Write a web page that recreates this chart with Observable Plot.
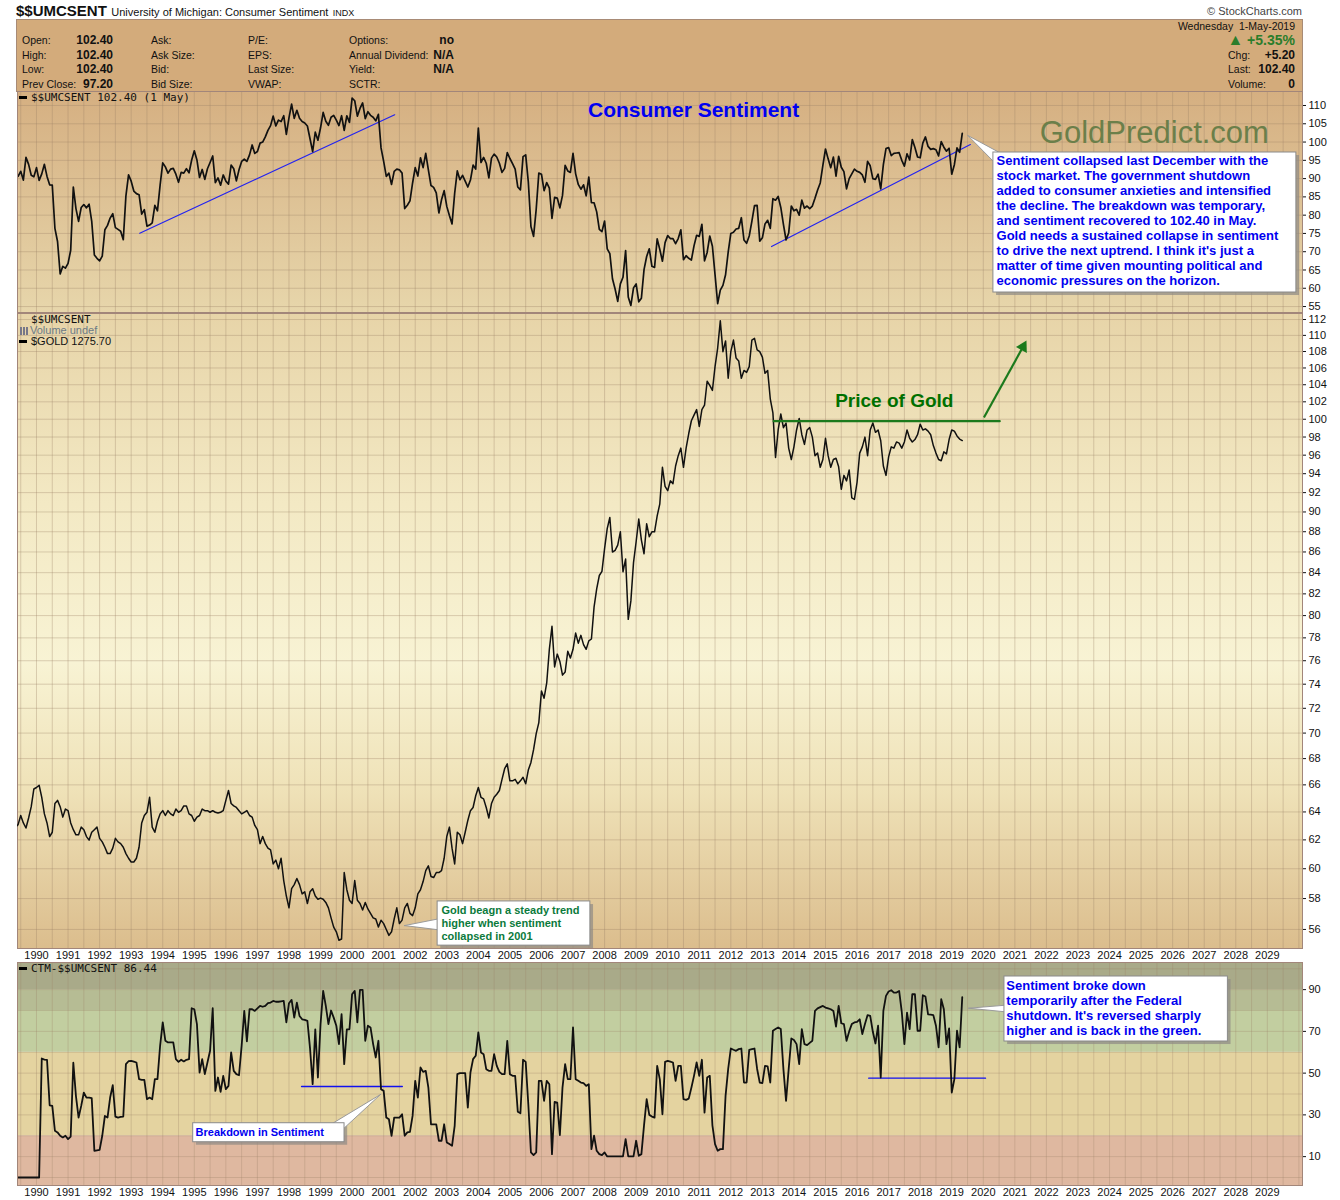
<!DOCTYPE html>
<html>
<head>
<meta charset="utf-8">
<script src="https://cdn.jsdelivr.net/npm/d3@7"></script>
<script src="https://cdn.jsdelivr.net/npm/@observablehq/plot@0.6"></script>
<style>
  html,body{margin:0;padding:0;background:#fff;}
  #wrap{position:relative;width:1340px;height:1200px;overflow:hidden;font-family:'Liberation Sans',Arial,Helvetica,sans-serif;color:#111;}
  .a{position:absolute;white-space:pre;line-height:14px;}
  .l{font-size:10.5px;}
  .v{font-size:12px;font-weight:bold;}
  .mono{font-family:'DejaVu Sans Mono','Liberation Mono',monospace;font-size:11px;}
  .dash{display:inline-block;width:8px;height:3px;background:#000;vertical-align:middle;margin-right:4px;position:relative;top:-1px;}
</style>
</head>
<body>
<div id="wrap"></div>
<script>
// ---------------- DATA (monthly, starting May 1989) ----------------
const startYear = 1989, startMonth = 4; // May (0-based)

// University of Michigan Consumer Sentiment
const sentiment = [
  90.7,90.6,92.0,89.6,95.8,93.9,90.9,90.5,
  93.0,89.5,91.3,93.9,90.6,88.3,88.2,76.4,72.8,63.9,66.0,65.5,
  66.8,70.4,87.7,81.8,78.3,82.1,82.9,82.0,83.0,78.3,69.1,68.2,
  67.5,68.8,76.0,77.2,79.2,80.4,76.6,76.1,75.6,73.3,85.3,91.0,
  89.3,86.6,85.9,85.6,80.3,81.5,77.0,77.3,77.9,82.7,81.2,88.2,
  94.3,93.2,91.5,92.6,92.8,91.2,89.0,91.7,91.5,92.7,91.6,95.1,
  97.6,95.1,90.3,92.5,89.8,92.7,94.4,96.2,88.9,90.2,88.2,91.0,
  89.3,88.5,93.7,92.7,89.4,92.4,94.7,95.3,94.7,96.5,99.2,96.9,
  97.4,99.7,100.0,101.4,103.2,104.5,107.1,104.4,106.0,105.6,107.2,102.1,
  106.6,110.4,106.5,108.7,106.5,105.6,105.2,104.4,100.9,97.4,102.7,100.5,
  103.9,108.1,105.7,104.6,106.8,107.3,106.0,104.5,107.2,103.2,107.2,105.4,
  112.0,111.3,107.1,109.2,110.7,106.4,108.3,107.3,106.8,105.8,107.6,98.4,
  94.7,90.6,91.5,88.4,92.0,92.6,92.4,91.5,81.8,82.7,83.9,88.8,
  93.0,90.7,95.7,93.0,96.9,92.4,88.1,87.6,86.1,80.6,84.2,86.7,
  82.4,79.9,77.6,86.0,92.1,89.7,90.9,89.3,87.7,89.6,93.7,92.6,
  103.8,94.4,95.8,94.2,90.2,95.6,96.7,95.9,94.2,91.7,92.8,97.1,
  95.5,94.1,92.6,87.7,86.9,96.0,96.5,89.1,76.9,74.2,81.6,91.5,
  91.2,86.7,88.9,87.4,79.1,84.9,84.7,82.0,85.4,93.6,92.1,91.7,
  96.9,91.3,88.4,87.1,88.3,85.3,90.4,83.4,83.4,80.9,76.1,75.5,
  78.4,70.8,69.5,62.6,59.8,56.4,61.2,63.0,70.3,57.6,55.3,60.1,
  61.2,56.3,57.3,65.1,68.7,70.8,66.0,65.7,73.5,70.6,67.4,72.5,
  74.4,73.6,73.6,72.2,73.6,76.0,67.8,68.9,68.2,67.7,71.6,74.5,
  74.2,77.5,67.5,69.8,74.3,71.5,63.7,55.8,59.5,60.8,63.7,69.9,
  75.0,75.3,76.2,76.4,79.3,73.2,72.3,74.3,78.3,82.6,82.7,72.9,
  73.8,77.6,78.6,76.4,84.5,84.1,85.1,82.1,77.5,73.2,75.1,82.5,
  81.2,81.6,80.0,84.1,81.9,82.5,81.8,82.5,84.6,86.9,88.8,93.6,
  98.1,95.4,93.0,95.9,90.7,96.1,93.1,91.9,87.2,90.0,91.3,92.6,
  92.0,91.7,91.0,89.0,94.7,93.5,90.0,89.8,91.2,87.2,93.8,98.2,
  98.5,96.3,96.9,97.0,97.1,95.0,93.4,96.8,95.1,100.7,98.5,95.9,
  95.7,99.7,101.4,98.8,98.0,98.2,97.9,96.2,100.1,98.6,97.5,98.3,
  91.2,93.8,98.4,97.2,102.4
];

// $GOLD (USD), overlaid on its own log scale
const gold = [
  366,369,380,371,365,377,391,414,
  416,419,403,382,371,355,360,395,399,391,378,388,
  386,371,363,357,357,366,363,355,351,360,363,366,
  353,349,343,336,336,342,353,349,347,343,336,331,
  327,327,331,343,371,380,384,403,366,360,373,382,
  386,380,386,382,380,388,384,386,392,392,382,380,
  373,378,380,388,386,386,384,386,384,383,384,386,
  399,412,395,392,390,386,382,384,386,380,378,368,
  363,347,355,347,342,340,325,329,320,331,308,293,
  282,300,304,310,304,295,297,286,297,300,293,290,
  291,290,287,282,273,265,261,254,255,316,299,289,
  286,308,289,286,280,287,281,277,273,272,265,271,
  268,263,258,261,272,282,268,271,282,286,277,275,
  282,295,299,307,318,323,312,311,316,316,318,331,
  355,366,342,325,360,357,347,360,374,386,390,405,
  416,403,401,390,377,395,403,407,412,427,442,449,
  425,425,427,421,425,430,421,440,451,470,495,513,
  568,555,583,650,700,614,640,625,598,604,646,632,
  650,685,663,680,660,650,668,672,745,790,825,836,
  900,960,995,890,895,910,950,835,870,716,760,860,
  920,990,925,885,975,935,950,950,1000,1040,1170,1100,
  1085,1120,1110,1175,1215,1245,1170,1245,1305,1360,1385,1410,
  1335,1410,1430,1545,1525,1500,1620,1720,1878,1700,1760,1560,
  1700,1765,1665,1650,1560,1600,1590,1620,1765,1775,1710,1700,
  1670,1585,1600,1460,1395,1208,1320,1390,1330,1350,1245,1200,
  1250,1320,1370,1300,1260,1320,1330,1290,1215,1225,1170,1200,
  1285,1215,1170,1200,1205,1172,1090,1140,1120,1160,1060,1055,
  1115,1225,1250,1290,1215,1320,1350,1310,1320,1275,1175,1140,
  1210,1250,1245,1270,1265,1245,1270,1320,1285,1270,1280,1300,
  1345,1320,1325,1315,1300,1255,1225,1200,1195,1230,1222,1280,
  1320,1315,1295,1282,1275.7
];

// CTM-$$UMCSENT (0-100)
const ctm = [
  0,0,0,0,0,0,0,0,
  0,0,57,56.5,56.4,34.6,34.3,22.4,21.6,20,19.2,20,
  18.4,19.6,55,39,28.7,34.3,40.7,38.3,38.3,38,12.8,13,
  13.2,20,29.5,28.7,38.3,44.2,29.2,28.7,29,29.2,54.3,55.7,
  55.9,55.5,55.1,47.1,46.8,46.8,37.5,38.3,37.5,47.1,47.1,63.1,
  74.3,65.5,64.7,64.7,64.7,56.7,55.4,56.4,55.6,56.4,56.7,81.1,
  80.6,73.5,50.3,56.7,49.5,55.1,60.7,81.1,41.5,47.9,41,48.7,
  42.3,43.9,59.9,51.1,49.5,49,63.1,79.8,65.2,80.6,80.6,79.8,
  81,82.2,81.8,82.2,83.5,83.8,84.6,84.2,84.2,84.4,84.6,74.3,
  83.5,85.1,76.6,83.8,77.4,75.8,75.5,75,62,44.7,71,47.9,
  73.5,89.4,82.2,73.5,80,76.6,72.7,63.9,78.2,54.3,71,71,
  87.8,89.4,74.3,89.9,89.9,65.5,72.7,71.9,63.9,57.5,65.5,42.3,
  41.5,28.7,27.9,20,28.7,28.7,28.7,30.3,20,21.6,21.9,29.5,
  46.3,38.3,52.7,50.6,51.1,43.1,25.5,25.5,25.5,17.6,17.6,25.5,
  16.8,16,15.2,24.7,49.5,50,50,50,33.5,50.3,56.7,58.3,
  69.5,59.9,59.1,51.9,51.1,51.1,59.1,53.5,50.6,49.5,49.5,65.5,
  49.5,48.7,48.7,31.5,30.8,56.4,55.4,35.1,12,10.7,12,46.3,
  46.3,36.7,46.3,44.7,11.2,36.2,35.9,20.3,43.1,54.3,47.1,47.1,
  71.9,47.1,46.3,45.5,45.2,43.9,44.7,13.6,20,12.8,11.2,10.7,
  12,10.1,10.1,10.1,10.1,10.1,10.1,10.1,18.4,10.1,10.1,10.1,
  17.6,10.4,11.2,25,37.5,30,29.2,28.7,53.5,47,30.3,55.4,
  55.9,55.5,55.1,46.3,53.5,53.5,37.5,37.2,37.8,43,48.7,55.1,
  48.7,56.4,31.1,47.9,48.7,25,16,12.8,13.6,13.6,39.1,52,
  61.8,61.2,60.7,61.5,61.8,45.5,45.5,61.2,61.5,61.8,52,45.5,
  45.2,53.5,53.2,45.5,70.3,71.1,71.9,71.1,51.9,36.7,51.9,66.6,
  65.9,63.9,54.3,71.1,63.9,63.4,64.5,65.5,79.8,81,81.6,82.2,
  81.4,81,80.6,79.8,72.3,82.2,73.9,73.5,65.5,70,73.5,74.3,
  74.6,75.8,68.7,73.5,77.8,77.4,69.8,64.2,72.7,47.9,79.8,87,
  89.1,89.7,88.6,88.6,89.4,79.4,63.9,79,71.1,87.8,87.8,70.3,
  70.3,87.3,86.7,78.2,78,77.8,72.7,62.3,85.4,80.6,63.9,71.4,
  40.7,47.1,70.3,62.3,86.44
];

// tick labels
const years = d3.range(1990, 2030);
const sentTicks = [55,60,65,70,75,80,85,90,95,100,105,110];
const logTicks = [56,58,60,62,64,66,68,70,72,74,76,78,80,82,84,86,88,90,92,94,96,98,100,102,104,106,108,110,112];
const ctmTicks = [10,30,50,70,90];
const ctmGrid = [0,10,20,30,40,50,60,70,80,90,100];
// CTM zones (lower, upper)
const ctmZones = [{lo:-10,hi:20},{lo:20,hi:60},{lo:60,hi:80},{lo:80,hi:90},{lo:90,hi:120}];

// annotation lines (decimal year, value)
const trendA = [{t:1993.27, v:75.06}, {t:2001.35, v:107.46}];
const trendB = [{t:2013.29, v:71.42}, {t:2019.59, v:99.33}];
const goldResistance = [{t:2013.36, g:1358}, {t:2020.52, g:1358}];
const goldArrow = [{t1:2020.02, g1:1374, t2:2021.26, g2:1727}];
const ctmLineA = [{t:1998.40, v:43.6}, {t:2001.59, v:43.6}];
const ctmLineB = [{t:2016.37, v:47.6}, {t:2020.07, v:47.6}];

// ---------------- STYLES ----------------
const FONT = "'Liberation Sans', Arial, Helvetica, sans-serif";
const zoneColors = ["#dfb8a0", "#e4d3a0", "#c2cea0", "#b6bc94", "#a9aa89"];
const GRID = "#9c8068", GRIDOP = 0.34, FRAME = "#a2867a";
const BLUE = "#0000f0";
const W = 1340, ML = 17, MR = 38;
const xDomain = [1989.398, 2030.114];
const halfYears = d3.range(1989.5, 2030.1, 0.5);

const tOf = i => startYear + (startMonth + i) / 12;
const sentRows = sentiment.map((v, i) => ({t: tOf(i), v}));
const goldRows = gold.map((g, i) => ({t: tOf(i), g}));
const ctmRows = ctm.map((v, i) => ({t: tOf(i), v}));

const wrap = document.getElementById("wrap");
function put(html, css, cls) {
  const d = document.createElement("div");
  d.className = "a " + (cls || "");
  d.innerHTML = html;
  Object.assign(d.style, css);
  wrap.appendChild(d);
  return d;
}
function placeSvg(svg, top) {
  const d = document.createElement("div");
  d.style.position = "absolute"; d.style.left = "0px"; d.style.top = top + "px";
  d.appendChild(svg);
  wrap.appendChild(d);
}
const STYLE = {background: "transparent", overflow: "visible", fontSize: "11px", fontFamily: FONT, color: "#111"};

// ---------------- HEADER ----------------
put('<b style="font-size:15px">$$UMCSENT</b> <span style="font-size:11px">University of Michigan: Consumer Sentiment</span> <span style="font-size:9px">INDX</span>', {left:"16px", top:"3px", lineHeight:"16px"});
put('&#169; StockCharts.com', {right:"38px", top:"4px", fontSize:"11px", color:"#444"});
put('', {left:"16px", top:"19px", width:"1287px", height:"73px", background:"#d3ab7b", border:"1px solid #a88b76", boxSizing:"border-box"});
const rowsY = [40, 55, 69, 84];
const col1 = [["Open:","102.40"],["High:","102.40"],["Low:","102.40"],["Prev Close:","97.20"]];
const col2 = ["Ask:","Ask Size:","Bid:","Bid Size:"];
const col3 = ["P/E:","EPS:","Last Size:","VWAP:"];
const col4 = [["Options:","no"],["Annual Dividend:","N/A"],["Yield:","N/A"],["SCTR:",""]];
rowsY.forEach((y, i) => {
  put(col1[i][0], {left:"22px", top:(y-7)+"px"}, "l");
  put(col1[i][1], {right:(W-113)+"px", top:(y-7)+"px"}, "v");
  put(col2[i], {left:"151px", top:(y-7)+"px"}, "l");
  put(col3[i], {left:"248px", top:(y-7)+"px"}, "l");
  put(col4[i][0], {left:"349px", top:(y-7)+"px"}, "l");
  put(col4[i][1], {right:(W-454)+"px", top:(y-7)+"px"}, "v");
});
put('Wednesday  1-May-2019', {right:(W-1295)+"px", top:"19px"}, "l");
put('<span style="font-size:16px">&#9650;</span> +5.35%', {right:(W-1295)+"px", top:"33px", fontSize:"14px", fontWeight:"bold", color:"#2b7d2b"});
[["Chg:","+5.20",55],["Last:","102.40",69],["Volume:","0",84]].forEach(([a,b,y]) => {
  put(a, {left:"1228px", top:(y-7)+"px"}, "l");
  put(b, {right:(W-1295)+"px", top:(y-7)+"px"}, "v");
});

// ---------------- PANEL A : Consumer Sentiment ----------------
const A_TOP = 91, A_H = 221;
put('', {left:ML+"px", top:A_TOP+"px", width:(W-ML-MR)+"px", height:A_H+"px", background:"linear-gradient(#d5af81, #e7d6ab)"});
const boxA = {t1:2020.32, t2:2029.92, v1:58.84, v2:97.14, tx:2020.42, ty:96.59,
  text:"Sentiment collapsed last December with the\nstock market. The government shutdown\nadded to consumer anxieties and intensified\nthe decline. The breakdown was temporary,\nand sentiment recovered to 102.40 in May.\nGold needs a sustained collapse in sentiment\nto drive the next uptrend. I think it's just a\nmatter of time given mounting political and\neconomic pressures on the horizon."};
const wedgeA = [{t:2019.51, v:101.79}, {t:2020.67, v:96.4}, {t:2020.39, v:94.1}, {t:2019.51, v:101.79}];
const labelsA = [
  {t:2010.82, v:108.63, s:"Consumer Sentiment"},
];
const brandA = [{t:2025.42, v:102.34, s:"GoldPredict.com"}];
const plotA = Plot.plot({
  width: W, height: A_H, marginLeft: ML, marginRight: MR, marginTop: 0, marginBottom: 0,
  style: STYLE,
  x: {domain: xDomain, axis: null},
  y: {domain: [53.37, 113.83], axis: "right", ticks: sentTicks, tickFormat: d => String(d), tickSize: 3, tickPadding: 3, label: null},
  marks: [
    Plot.ruleX(halfYears, {stroke: GRID, strokeOpacity: GRIDOP}),
    Plot.ruleY(sentTicks, {stroke: GRID, strokeOpacity: GRIDOP}),
    Plot.text(brandA, {x:"t", y:"v", text:"s", fontSize: 31, fill:"#6b7f4a", fontFamily: FONT, textAnchor:"middle"}),
    Plot.line(trendA, {x:"t", y:"v", stroke:"#2323f0", strokeWidth:1.2}),
    Plot.line(trendB, {x:"t", y:"v", stroke:"#2323f0", strokeWidth:1.2}),
    Plot.line(sentRows, {x:"t", y:"v", stroke:"#111", strokeWidth:1.7, clip:true}),
    Plot.text(labelsA, {x:"t", y:"v", text:"s", fontSize: 21, fontWeight:"bold", fill: BLUE, fontFamily: FONT}),
    Plot.rect([boxA], {x1: d => d.t1 + 0.1, x2: d => d.t2 + 0.1, y1: d => d.v1 - 0.82, y2: d => d.v2 - 0.82, fill:"#8e8a84", fillOpacity:0.7}),
    Plot.line(wedgeA, {x:"t", y:"v", fill:"#fff", stroke:"#9a9a9a", strokeWidth:1}),
    Plot.rect([boxA], {x1:"t1", x2:"t2", y1:"v1", y2:"v2", fill:"#fff", stroke:"#8a8a8a"}),
    Plot.text([boxA], {x:"tx", y:"ty", text:"text", textAnchor:"start", lineAnchor:"top", lineHeight: 15/13, fontSize:13, fontWeight:"bold", fill: BLUE, fontFamily: FONT}),
    Plot.frame({stroke: FRAME})
  ]
});
placeSvg(plotA, A_TOP);
put('<span class="dash"></span>$$UMCSENT 102.40 (1 May)', {left:"19px", top:"91px"}, "mono");

// ---------------- PANEL B : Gold overlay ----------------
const B_TOP = 313, B_H = 635;
put('', {left:ML+"px", top:B_TOP+"px", width:(W-ML-MR)+"px", height:B_H+"px", background:"linear-gradient(#e7d4a8 0%, #f3e9c4 30%, #f8f3d4 55%, #efe2b8 75%, #dbbd8d 100%)"});
const plotB = Plot.plot({
  width: W, height: B_H + 15, marginLeft: ML, marginRight: MR, marginTop: 0, marginBottom: 15,
  style: STYLE,
  x: {domain: xDomain, ticks: years, tickFormat: d => String(d), tickSize: 0, tickPadding: 3, label: null},
  y: {type: "log", domain: [54.80, 112.77], axis: "right", ticks: logTicks, tickFormat: d => String(d), tickSize: 3, tickPadding: 3, label: null},
  marks: [
    Plot.ruleX(halfYears, {stroke: GRID, strokeOpacity: GRIDOP}),
    Plot.ruleY(logTicks, {stroke: GRID, strokeOpacity: GRIDOP}),
    Plot.frame({stroke: FRAME})
  ]
});
placeSvg(plotB, B_TOP);
const goldBox = {t1:2002.71, t2:2007.55, g1:249.6, g2:287.9, tx:2002.83, ty:285.2,
  text:"Gold beagn a steady trend\nhigher when sentiment\ncollapsed in 2001"};
const goldWedge = [{t:2001.66, g:266.3}, {t:2002.80, g:272.5}, {t:2002.80, g:262.5}, {t:2001.66, g:266.3}];
const goldLabel = [{t:2017.18, g:1450, s:"Price of Gold"}];
const plotG = Plot.plot({
  width: W, height: B_H + 15, marginLeft: ML, marginRight: MR, marginTop: 0, marginBottom: 15,
  style: STYLE,
  x: {domain: xDomain, axis: null},
  y: {type: "log", domain: [247.3, 1923], axis: null},
  marks: [
    Plot.line(goldRows, {x:"t", y:"g", stroke:"#111", strokeWidth:1.5, clip:true}),
    Plot.line(goldResistance, {x:"t", y:"g", stroke:"#1c7a1c", strokeWidth:2.2}),
    Plot.link(goldArrow, {x1:"t1", y1:"g1", x2:"t2", y2:"g2", stroke:"#1c7a1c", strokeWidth:2.2}),
    Plot.dot(goldArrow, {x:"t2", y:"g2", symbol:"triangle", r:4.6, rotate:28.6, fill:"#1c7a1c", stroke:"none"}),
    Plot.text(goldLabel, {x:"t", y:"g", text:"s", fontSize:19, fontWeight:"bold", fill:"#007000", fontFamily: FONT}),
    Plot.rect([goldBox], {x1: d => d.t1 + 0.1, x2: d => d.t2 + 0.1, y1: d => d.g1 * 0.99, y2: d => d.g2 * 0.99, fill:"#8e8a84", fillOpacity:0.7}),
    Plot.line(goldWedge, {x:"t", y:"g", fill:"#fff", stroke:"#9a9a9a", strokeWidth:1}),
    Plot.rect([goldBox], {x1:"t1", x2:"t2", y1:"g1", y2:"g2", fill:"#fff", stroke:"#8a8a8a"}),
    Plot.text([goldBox], {x:"tx", y:"ty", text:"text", textAnchor:"start", lineAnchor:"top", lineHeight: 13/11, fontSize:11, fontWeight:"bold", fill:"#0b7a3c", fontFamily: FONT})
  ]
});
placeSvg(plotG, B_TOP);
put('$$UMCSENT', {left:"31px", top:"313px"}, "mono");
put('<span style="display:inline-block;width:8px;height:8px;vertical-align:-1px;margin-right:2px;background:linear-gradient(90deg,#778 0 2px,transparent 2px 3px,#778 3px 5px,transparent 5px 6px,#778 6px 8px);"></span>Volume undef', {left:"20px", top:"323px", fontSize:"11px", color:"#6c7a86"});
put('<span class="dash"></span>$GOLD 1275.70', {left:"19px", top:"334px", fontSize:"11px"});

// ---------------- PANEL C : CTM ----------------
const C_TOP = 962, C_H = 223;
const boxC1 = {t1:1994.965, t2:1999.76, v1:16.9, v2:26.0, tx:1995.04, ty:21.5, text:"Breakdown in Sentiment"};
const wedgeC1 = [{t:2000.90, v:39.76}, {t:1999.30, v:25.2}, {t:1999.70, v:23.0}, {t:2000.90, v:39.76}];
const boxC2 = {t1:2020.67, t2:2027.75, v1:65.15, v2:96.29, tx:2020.73, ty:95.1,
  text:"Sentiment broke down\ntemporarily after the Federal\nshutdown. It's reversed sharply\nhigher and is back in the green."};
const wedgeC2 = [{t:2019.54, v:81.1}, {t:2020.75, v:82.6}, {t:2020.75, v:79.3}, {t:2019.54, v:81.1}];
const plotC = Plot.plot({
  width: W, height: C_H + 15, marginLeft: ML, marginRight: MR, marginTop: 0, marginBottom: 15,
  style: STYLE,
  x: {domain: xDomain, ticks: years, tickFormat: d => String(d), tickSize: 0, tickPadding: 3, label: null},
  y: {domain: [-3.83, 103.0], axis: "right", ticks: ctmTicks, tickFormat: d => String(d), tickSize: 3, tickPadding: 3, label: null},
  marks: [
    Plot.rect(ctmZones, {x1: () => xDomain[0], x2: () => xDomain[1], y1:"lo", y2:"hi", fill: (d, i) => zoneColors[i], clip:true}),
    Plot.ruleX(halfYears, {stroke: GRID, strokeOpacity: 0.3}),
    Plot.ruleY(ctmGrid, {stroke: GRID, strokeOpacity: 0.3}),
    Plot.line(ctmLineA, {x:"t", y:"v", stroke:"#1010f0", strokeWidth:1.4}),
    Plot.line(ctmLineB, {x:"t", y:"v", stroke:"#1010f0", strokeWidth:1.4}),
    Plot.line(ctmRows, {x:"t", y:"v", stroke:"#111", strokeWidth:1.8, clip:true}),
    Plot.rect([boxC1, boxC2], {x1: d => d.t1 + 0.1, x2: d => d.t2 + 0.1, y1: d => d.v1 - 1.44, y2: d => d.v2 - 1.44, fill:"#8e8a84", fillOpacity:0.7}),
    Plot.line(wedgeC1, {x:"t", y:"v", fill:"#fff", stroke:"#9a9a9a", strokeWidth:1}),
    Plot.line(wedgeC2, {x:"t", y:"v", fill:"#fff", stroke:"#9a9a9a", strokeWidth:1}),
    Plot.rect([boxC1, boxC2], {x1:"t1", x2:"t2", y1:"v1", y2:"v2", fill:"#fff", stroke:"#8a8a8a"}),
    Plot.text([boxC1], {x:"tx", y:"ty", text:"text", textAnchor:"start", fontSize:11, fontWeight:"bold", fill: BLUE, fontFamily: FONT}),
    Plot.text([boxC2], {x:"tx", y:"ty", text:"text", textAnchor:"start", lineAnchor:"top", lineHeight: 15/13, fontSize:13, fontWeight:"bold", fill: BLUE, fontFamily: FONT}),
    Plot.frame({stroke: FRAME})
  ]
});
placeSvg(plotC, C_TOP);
put('<span class="dash"></span>CTM-$$UMCSENT 86.44', {left:"19px", top:"962px"}, "mono");
</script>
</body>
</html>
